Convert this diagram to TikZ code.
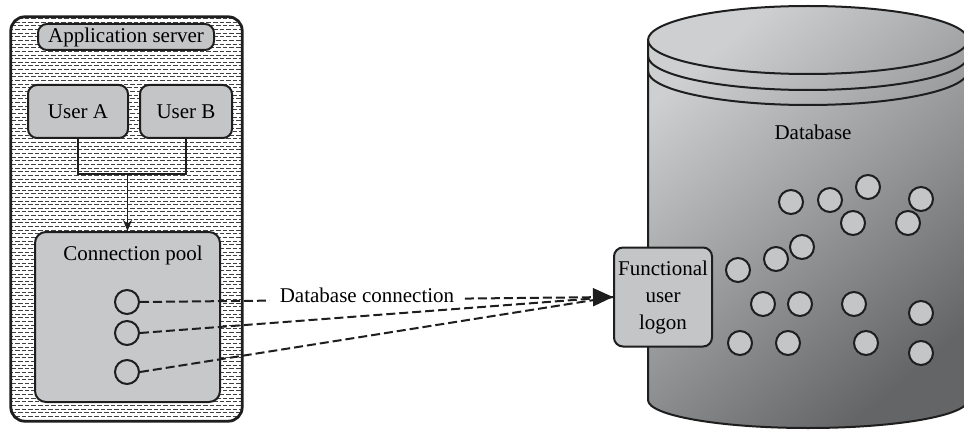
\documentclass[tikz,border=0pt]{standalone}
\usepackage{fontspec}
\setmainfont{Liberation Serif}
\usetikzlibrary{arrows.meta}

\definecolor{boxgray}{RGB}{196,197,199}
\definecolor{poolgray}{RGB}{199,200,202}
\definecolor{dblight}{RGB}{206,207,209}
\definecolor{dbdark}{RGB}{100,101,103}
\definecolor{inkc}{RGB}{30,30,30}

\tikzset{
  rbox/.style={draw=inkc, line width=2pt, fill=boxgray, rounded corners=9pt,
               inner sep=0pt, align=center},
  dot/.style={circle, draw=inkc, line width=2pt, minimum size=24pt, inner sep=0pt},
  dbdot/.style={dot, fill=boxgray},
  conn/.style={draw=inkc, line width=2pt, dash pattern=on 9pt off 4pt},
  wire/.style={draw=inkc, line width=2.6pt},
  cyl/.style={draw=inkc, line width=2pt},
}

\begin{document}
\begin{tikzpicture}[x=1pt, y=1pt, font=\fontsize{21}{27}\selectfont]
\useasboundingbox (0,0) rectangle (964,432);
\clip (0,0) rectangle (964,432);
\fill[white] (0,0) rectangle (964,432);

% ---- application server frame with dash-hatched fill ----
\node[draw=none, minimum width=231pt, minimum height=404pt, inner sep=0pt]
  (srv) at (126.5,213) {};
\fill[white, rounded corners=14pt] (srv.south west) rectangle (srv.north east);
\begin{scope}
  \clip[rounded corners=14pt] (srv.south west) rectangle (srv.north east);
  \foreach \i in {0,...,112} {
    \pgfmathsetmacro\yy{12+\i*3.65}
    \pgfmathsetmacro\ph{mod(\i,2)*3.3}
    \draw[inkc!85, line width=0.95pt, dash pattern=on 4.6pt off 2pt, dash phase=\ph pt]
      (5,\yy) -- (250,\yy);
  }
\end{scope}
\draw[inkc, line width=2.8pt, rounded corners=14pt] (srv.south west) rectangle (srv.north east);

\node[rbox, minimum width=176pt, minimum height=26pt] (app) at (126,395) {Application server};

\node[rbox, minimum width=100pt, minimum height=53pt] (ua) at (78,320.5) {User A};
\node[rbox, minimum width=92pt, minimum height=53pt] (ub) at (186,320.5) {User B};

\node[rbox, fill=poolgray, rounded corners=11pt, minimum width=185pt, minimum height=170pt]
  (pool) at (127.5,115) {};
\node (plbl) at (133,177) {Connection pool};

% users joined and fed into the pool
\coordinate (j) at (127.5,258);
\draw[wire] (ua.south) |- (j) -| (ub.south);
\draw[draw=inkc, line width=1.6pt, -{Stealth[length=11pt, width=9pt]}] (j) -- (pool.north);

\node[dot] (c1) at (127,130) {};
\node[dot] (c2) at (127,99) {};
\node[dot] (c3) at (127,60) {};

% ---- database cylinder ----
\shade[top color=dblight, bottom color=dbdark, shading angle=40]
  (648,392) -- (648,32) arc[start angle=180, end angle=360, x radius=160, y radius=28]
  -- (968,392) arc[start angle=0, end angle=180, x radius=160, y radius=34] -- cycle;
\draw[cyl] (648,392) -- (648,32) arc[start angle=180, end angle=360, x radius=160, y radius=28]
  -- (968,392);
\draw[cyl] (808,392) ellipse [x radius=160, y radius=34];
\draw[cyl] (648,376) arc[start angle=180, end angle=360, x radius=160, y radius=34];
\draw[cyl] (648,361) arc[start angle=180, end angle=360, x radius=160, y radius=34];

\node (dblbl) at (813,300) {Database};

\foreach \n/\px/\py in {d1/791/230, d2/830/232, d3/868/245, d4/921/233,
    d5/853/209, d6/908/209, d7/802/185, d8/776/173, d9/738/162,
    d10/763/128, d11/800/128, d12/854/128, d13/921/119,
    d14/740/89, d15/788/89, d16/866/89, d17/921/79}
  \node[dbdot] (\n) at (\px,\py) {};

\node[rbox, minimum width=98pt, minimum height=99pt] (fl) at (663,135)
  {Functional\\user\\logon};

% ---- pooled connections to the functional logon ----
\draw[conn] (c2.east) -- (fl.west);
\draw[conn] (c3.east) -- (fl.west);
\draw[conn, -{Triangle[length=20pt, width=18pt]}] (c1.east) -- (fl.west);
\node[fill=white, inner xsep=10pt, inner ysep=2pt] (clbl) at (367,137) {Database connection};
\end{tikzpicture}
\end{document}
